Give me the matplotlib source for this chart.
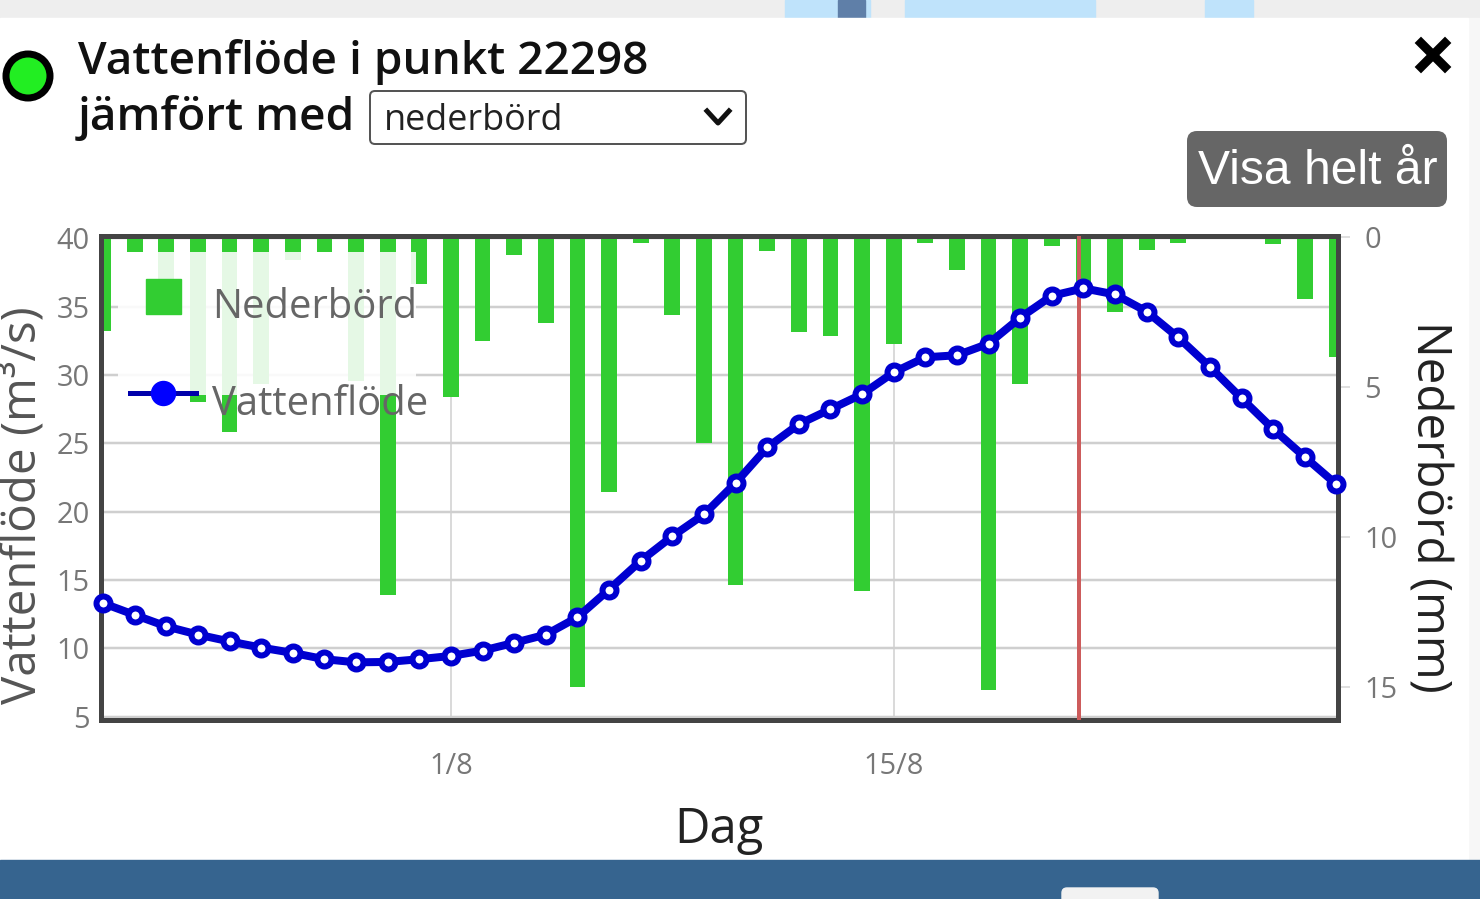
import matplotlib
matplotlib.use("Agg")
import matplotlib.pyplot as plt
from matplotlib.lines import Line2D
from matplotlib.patches import FancyBboxPatch, Rectangle, Circle

plt.rcParams['font.family'] = ['Open Sans', 'DejaVu Sans']

# days relative to 1/8
days = list(range(-11, 29))
flow = [13.3, 12.44, 11.6, 11.0, 10.5, 10.05, 9.66, 9.2, 8.97, 9.0,
        9.2, 9.44, 9.83, 10.4, 11.0, 12.27, 14.3, 16.4, 18.2, 19.8,
        22.1, 24.7, 26.4, 27.5, 28.6, 30.2, 31.3, 31.45, 32.3, 34.2,
        35.8, 36.35, 35.9, 34.65, 32.75, 30.6, 28.3, 26.05, 24.0, 22.0]
rain = [3.13, 0.48, 1.4, 5.5, 6.5, 4.9, 0.75, 0.48, 4.8, 11.95,
        1.55, 5.33, 3.44, 0.58, 2.85, 15.0, 8.5, 0.2, 2.6, 6.85,
        11.6, 0.44, 3.15, 3.3, 11.8, 3.55, 0.2, 1.08, 15.1, 4.88,
        0.27, 1.6, 2.5, 0.42, 0.2, 0.05, 0.0, 0.22, 2.05, 4.0]
today = 19.87
x_ticks = [0, 14]
x_labels = ["1/8", "15/8"]
flow_ticks = [5, 10, 15, 20, 25, 30, 35, 40]
rain_ticks = [0, 5, 10, 15]

W, H = 1480, 899
GREEN = "#32cd32"
BLUE = "#0000d0"
FRAME = "#444444"
GREY = "#777777"


def px(v):
    return v * 0.72


fig = plt.figure(figsize=(14.8, 8.99), dpi=100)

# page around the chart, in pixels
bg = fig.add_axes([0, 0, 1, 1], zorder=-1)
bg.set_xlim(0, W)
bg.set_ylim(H, 0)
bg.axis("off")
bg.add_patch(Rectangle((0, 0), W, H, color="#eeeeee"))
bg.add_patch(Rectangle((785, 0), 85, 18, color="#bfe3fb"))
bg.add_patch(Rectangle((838, 0), 27, 18, color="#5f7fa8"))
bg.add_patch(Rectangle((905, 0), 190, 18, color="#bfe3fb"))
bg.add_patch(Rectangle((1205, 0), 48, 18, color="#bfe3fb"))
bg.add_patch(Rectangle((1468, 18), 12, 842, color="#f7f7f7"))
bg.add_patch(Rectangle((0, 18), 1468, 842, color="white"))
bg.add_patch(Rectangle((0, 860), W, 39, color="#36648f"))
bg.add_patch(FancyBboxPatch((1062, 888), 96, 16, boxstyle="round,pad=0,rounding_size=5",
                            color="#f2f2f2"))

bg.add_patch(Circle((28, 76), 22, fc="#22ee22", ec="black", lw=px(7)))
bg.text(78, 62, "Vattenflöde i punkt 22298", fontsize=px(46), color="#111111", va="center",
        weight="semibold")
bg.text(78, 118, "jämfört med", fontsize=px(46), color="#111111", va="center", weight="semibold")
bg.add_patch(FancyBboxPatch((370, 91), 376, 53, boxstyle="round,pad=0,rounding_size=5",
                            fc="white", ec="#555555", lw=px(2)))
bg.text(384, 121, "nederbörd", fontsize=px(36), color="#222222", va="center")
bg.plot([707, 718, 729], [111, 123, 111], color="#111111", lw=px(5))
bg.plot([1421, 1445], [43, 67], color="black", lw=px(9))
bg.plot([1421, 1445], [67, 43], color="black", lw=px(9))
bg.add_patch(FancyBboxPatch((1187, 131), 260, 76, boxstyle="round,pad=0,rounding_size=10",
                            fc="#666666", ec="none"))
bg.text(1318, 171, "Visa helt år", fontsize=px(48), color="white", ha="center", va="center",
        family="Liberation Sans")

# chart
left, right, top, bottom = 101.5, 1338, 236, 720
ax = fig.add_axes([left / W, 1 - bottom / H, (right - left) / W, (bottom - top) / H])
ax.set_xlim(-11.05, 28.05)
ax.set_ylim(4.75, 40.18)
ax.set_xticks(x_ticks, x_labels)
ax.set_yticks(flow_ticks)
ax.grid(True, axis="y", color="#cfcfcf", lw=px(2.5))
ax.grid(True, axis="x", color="#cfcfcf", lw=px(1.5))
ax.set_axisbelow(True)
ax.tick_params(axis="both", length=0, labelsize=px(29), labelcolor=GREY)
ax.tick_params(axis="x", pad=px(32))
ax.tick_params(axis="y", pad=px(12))
for sp in ax.spines.values():
    sp.set_visible(False)

ax2 = ax.twinx()
ax2.set_ylim(16.11, -0.05)
ax2.set_yticks(rain_ticks)
ax2.tick_params(axis="y", length=px(12), width=px(1.5), color="#d5d5d5", pad=px(14),
                labelsize=px(29), labelcolor=GREY)
ax2.bar(days, rain, width=0.5, color=GREEN, zorder=2)
ax2.axvline(today, color="#cd5c5c", lw=px(4), zorder=3)
# flow belongs to the left scale but has to sit on top of the bars
ax2.plot(days, flow, transform=ax.transData, color=BLUE, lw=px(8), marker="o", ms=px(14),
         mfc="white", mec=BLUE, mew=px(6), zorder=4, clip_on=False)
for sp in ax2.spines.values():
    sp.set_color(FRAME)
    sp.set_linewidth(px(5))

# legend background stops short of the text, like in the page
ax2.add_patch(Rectangle((118, 252), 298, 143, transform=bg.transData, fc="white", alpha=0.88,
                        ec="none", zorder=5))
handles = [
    Line2D([], [], color=GREEN, marker="s", ls="none", ms=px(35)),
    Line2D([], [], color="#0000aa", lw=px(5), marker="o", ms=px(24), mfc="#0000ff", mec="#0000ff"),
]
leg = ax2.legend(handles, ["Nederbörd", "Vattenflöde"], loc="upper left", frameon=False,
                 bbox_to_anchor=(130 / W, 1 - 279 / H), bbox_transform=fig.transFigure,
                 fontsize=px(40), labelcolor="#666666", handlelength=1.65, handletextpad=0.4,
                 labelspacing=1.42, borderpad=0, borderaxespad=0)
leg.set_zorder(6)
# labels sit a little lower than their symbols
for t in leg.get_texts():
    t.set_y(-8)

fig.text(23 / W, 1 - 505 / H, "Vattenflöde (m³/s)", fontsize=px(47.5), color="#555555",
         rotation=90, ha="center", va="center")
fig.text(1429 / W, 1 - 507 / H, "Nederbörd (mm)", fontsize=px(47.5), color="#222222",
         rotation=270, ha="center", va="center")
fig.text(719 / W, 1 - 830 / H, "Dag", fontsize=px(49), color="#222222", ha="center", va="center")

fig.savefig("out.png", dpi=100)
